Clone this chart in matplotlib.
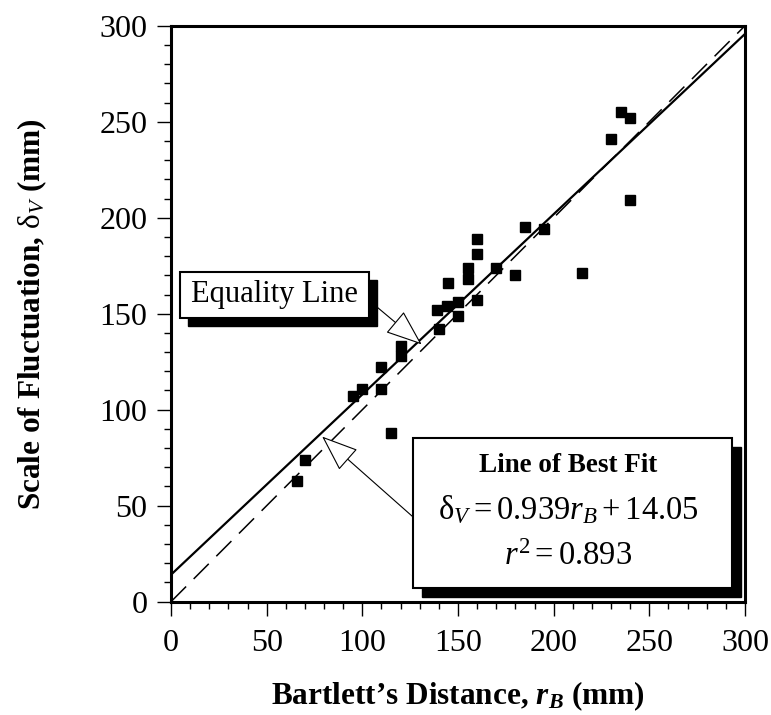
import numpy as np
import matplotlib
matplotlib.use("Agg")
from matplotlib import pyplot as plt
from matplotlib.patches import Rectangle

plt.rcParams['font.family'] = ['Liberation Serif', 'DejaVu Serif']
plt.rcParams['mathtext.fontset'] = 'custom'
plt.rcParams['mathtext.rm'] = 'Liberation Serif'
plt.rcParams['mathtext.it'] = 'Liberation Serif:italic'
plt.rcParams['mathtext.bf'] = 'Liberation Serif:bold:italic'

''' data read from the figure '''
bartlett = [66, 70, 95, 100, 110, 110, 115, 120, 120, 140, 139, 144, 150, 150,
            160, 145, 155, 155, 160, 160, 170, 180, 185, 195, 215, 235, 240, 230, 240]
fluct = [63, 74, 107, 111, 122, 111, 88, 133, 128, 142, 152, 154, 156, 149,
         157, 166, 174, 168, 189, 181, 174, 170, 195, 194, 171, 255, 252, 241, 209]
slope = 0.939
intercept = 14.05
r2 = 0.893
ticks = [0, 50, 100, 150, 200, 250, 300]

fig = plt.figure(figsize=(7.71, 7.15), dpi=100)
ax = fig.add_axes([0.2218, 0.1585, 0.7445, 0.8055])

xl = np.array([0, 300])
ax.plot(xl, xl, color='black', lw=1.1, dashes=(14, 7))
ax.plot(xl, slope * xl + intercept, color='black', lw=1.6)
ax.plot(bartlett, fluct, 's', color='black', ms=7)

ax.set_xlim(0, 300)
ax.set_ylim(0, 300)
ax.set_xticks(ticks)
ax.set_yticks(ticks)
ax.set_xticks(np.arange(0, 301, 10), minor=True)
ax.set_yticks(np.arange(0, 301, 10), minor=True)
ax.tick_params(which='major', direction='out', length=10, width=1, labelsize=23, pad=7)
ax.tick_params(axis='x', which='major', pad=10)
ax.tick_params(which='minor', direction='out', length=5, width=1)
for s in ax.spines.values():
    s.set_linewidth(2.2)

ax.set_xlabel(r"Bartlett’s Distance, $\mathbf{r}_{\mathbf{B}}$ (mm)",
              fontsize=22.5, fontweight='bold')
ax.xaxis.set_label_coords(0.5, -0.135)
ax.set_ylabel(r"Scale of Fluctuation, $\mathrm{\delta}_{V}$ (mm)",
              fontsize=22.5, fontweight='bold', labelpad=36)

''' boxes with drop shadows '''
def shadowBox(x0, y0, w, h, off):
    ax.add_patch(Rectangle((x0 + off, y0 - off), w, h, transform=ax.transAxes,
                           facecolor='black', edgecolor='black', zorder=5))
    ax.add_patch(Rectangle((x0, y0), w, h, transform=ax.transAxes,
                           facecolor='white', edgecolor='black', lw=1.5, zorder=6))

shadowBox(0.0157, 0.4925, 0.329, 0.080, 0.014)
ax.text(0.180, 0.5325, "Equality Line", transform=ax.transAxes,
        ha='center', va='center', fontsize=22, zorder=7)

shadowBox(0.421, 0.0243, 0.556, 0.260, 0.016)
ax.text(0.692, 0.237, "Line of Best Fit", transform=ax.transAxes,
        ha='center', va='center', fontsize=19.5, fontweight='bold', zorder=7)
ax.text(0.692, 0.159, r"$\mathrm{\delta}_{V} = %.3fr_{B} + %.2f$" % (slope, intercept),
        transform=ax.transAxes, ha='center', va='center', fontsize=23.5, zorder=7)
ax.text(0.692, 0.0776, r"$r^{2} = %.3f$" % r2, transform=ax.transAxes,
        ha='center', va='center', fontsize=23.5, zorder=7)

''' arrows '''
arrowStyle = dict(arrowstyle='-|>,head_length=1.3,head_width=0.5', fc='white',
                  ec='black', lw=0.8, mutation_scale=18, shrinkA=0, shrinkB=0)
ax.annotate('', xy=(131, 134), xytext=(107.5, 153.6), arrowprops=arrowStyle, zorder=8)
ax.annotate('', xy=(79, 86), xytext=(126.3, 44.3), arrowprops=arrowStyle, zorder=8)

plt.savefig('out.png', dpi=100)
